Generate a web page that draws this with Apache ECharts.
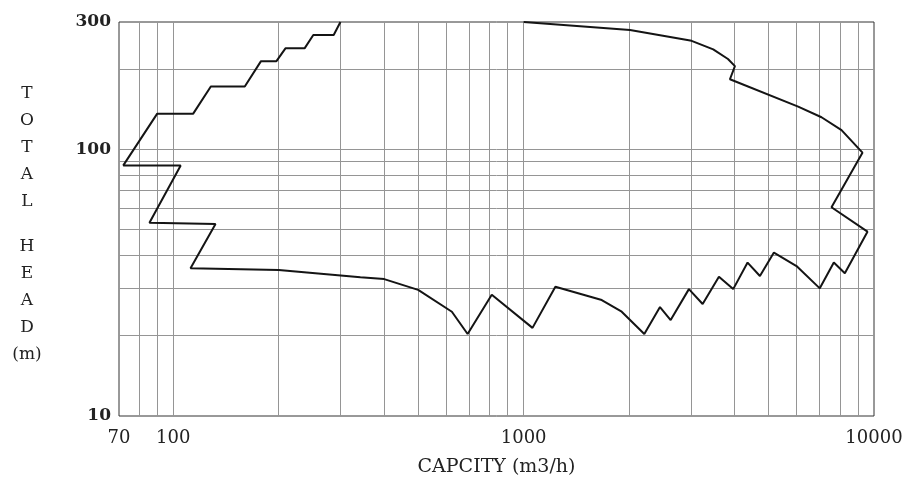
<!DOCTYPE html>
<html>
<head>
<meta charset="utf-8">
<script src="https://cdn.jsdelivr.net/npm/echarts@6/dist/echarts.min.js"></script>
<style>html,body{margin:0;padding:0;background:#fff;}#chart{width:920px;height:478px;}</style>
</head>
<body>
<div id="chart"></div>
<script>
// Envelope curve (capacity m3/h, total head m), traced in order
const capacity = [300, 287, 251, 237, 209, 197, 178, 160, 128, 114, 90, 72, 105, 85.5, 132, 112, 200, 342, 400, 500, 624, 692, 811, 1060, 1232, 1671, 1905, 2210, 2450, 2628, 2963, 3243, 3609, 3964, 4357, 4725, 5180, 6010, 7003, 7679, 8256, 9580, 7563, 9270, 8078, 7082, 6075, 3880, 4009, 3830, 3476, 3016, 2012, 1000];
const head = [300, 268, 268, 239, 239, 214, 214, 172, 172, 136, 136, 87, 87, 53, 52.5, 35.8, 35.3, 33.1, 32.6, 29.7, 24.6, 20.3, 28.5, 21.4, 30.5, 27.2, 24.6, 20.3, 25.6, 22.9, 29.9, 26.3, 33.3, 29.9, 37.6, 33.5, 41, 36.5, 30.1, 37.6, 34.3, 49.1, 60.6, 97.1, 118, 131.8, 144.5, 183, 205, 218, 237, 255, 280, 300];

// Grid lines (log paper)
const gridCapacity = [80, 90, 100, 200, 300, 400, 500, 600, 700, 800, 900, 1000, 2000, 3000, 4000, 5000, 6000, 7000, 8000, 9000];
const gridHead = [20, 30, 40, 50, 60, 70, 80, 90, 100, 200];

const xMin = 70, xMax = 10000, yMin = 10, yMax = 300;
const xName = 'CAPCITY (m3/h)';
const yNameLetters1 = ['T', 'O', 'T', 'A', 'L'];
const yNameLetters2 = ['H', 'E', 'A', 'D', '(m)'];

const curve = capacity.map((c, i) => [c, head[i]]);
const markData = gridCapacity.map(v => ({ xAxis: v })).concat(gridHead.map(v => ({ yAxis: v })));

const yName = yNameLetters1.map(s => '{a|' + s + '}').join('\n') + '\n{g|\u00a0}\n' + yNameLetters2.map(s => '{a|' + s + '}').join('\n');
const plainNum = v => String(Math.round(v));

const chart = echarts.init(document.getElementById('chart'), null, { renderer: 'canvas' });
chart.setOption({
  animation: false,
  backgroundColor: '#ffffff',
  grid: { left: 119, right: 46, top: 22, bottom: 62, outerBoundsMode: 'none', containLabel: false, show: true, borderColor: '#333', borderWidth: 1, backgroundColor: 'transparent' },
  xAxis: {
    type: 'log', logBase: 10, min: xMin, max: xMax,
    name: xName, nameLocation: 'middle', nameGap: 42,
    nameTextStyle: { fontFamily: 'DejaVu Serif', fontSize: 19, color: '#222' },
    axisLine: { show: false }, axisTick: { show: false }, splitLine: { show: false }, minorTick: { show: false },
    axisLabel: { fontFamily: 'DejaVu Serif', fontSize: 18, color: '#222', margin: 13, formatter: plainNum }
  },
  yAxis: {
    type: 'log', logBase: 10, min: yMin, max: yMax,
    name: yName, nameLocation: 'middle', nameGap: 92, nameRotate: 0,
    nameTextStyle: {
      align: 'center', verticalAlign: 'middle', padding: [10, 0, 0, 0],
      rich: {
        a: { fontFamily: 'DejaVu Serif', fontSize: 17, color: '#222', lineHeight: 27, align: 'center' },
        g: { fontSize: 10, lineHeight: 18 }
      }
    },
    axisLine: { show: false }, axisTick: { show: false }, splitLine: { show: false }, minorTick: { show: false },
    axisLabel: { fontFamily: 'DejaVu Serif', fontSize: 17, fontWeight: 'bold', color: '#222', margin: 8, formatter: plainNum }
  },
  series: [
    {
      type: 'line', data: curve, z: 1, symbol: 'none', silent: true,
      lineStyle: { opacity: 0, width: 0 },
      markLine: {
        z: 1, silent: true, symbol: ['none', 'none'], animation: false,
        label: { show: false },
        lineStyle: { color: '#959595', width: 1, type: 'solid' },
        emphasis: { disabled: true },
        data: markData
      }
    },
    {
      type: 'line', data: curve, z: 10, symbol: 'none', smooth: false,
      lineStyle: { color: '#141414', width: 2 }
    }
  ]
});
</script>
</body>
</html>
